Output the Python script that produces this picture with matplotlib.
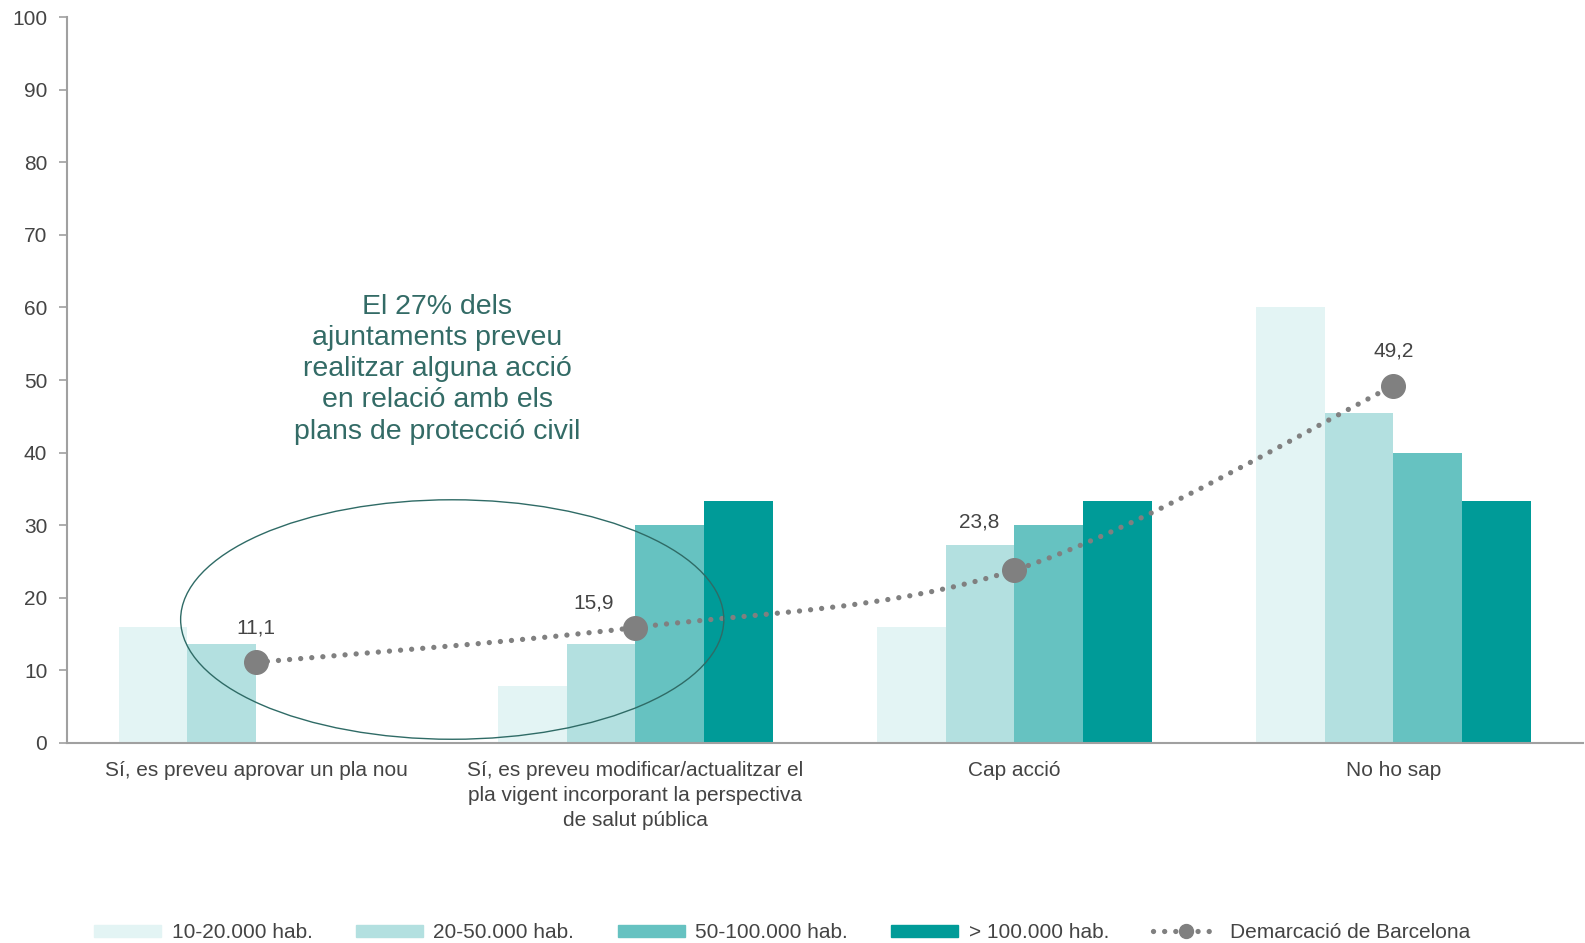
import numpy as np
import matplotlib
matplotlib.use("Agg")
import matplotlib.pyplot as plt
from matplotlib.path import Path
from matplotlib.patches import PathPatch, Ellipse, Patch
from matplotlib.lines import Line2D

plt.rcParams['font.family'] = ['Liberation Sans', 'DejaVu Sans']

# --- data ---
categories = [
    "Sí, es preveu aprovar un pla nou",
    "Sí, es preveu modificar/actualitzar el\npla vigent incorporant la perspectiva\nde salut pública",
    "Cap acció",
    "No ho sap",
]
series_names = ["10-20.000 hab.", "20-50.000 hab.", "50-100.000 hab.", "> 100.000 hab."]
v_10_20 = [16.0, 7.9, 16.0, 60.0]
v_20_50 = [13.6, 13.6, 27.3, 45.5]
v_50_100 = [0.0, 30.0, 30.0, 40.0]
v_100 = [0.0, 33.3, 33.3, 33.3]
demarcacio = [11.1, 15.9, 23.8, 49.2]
demarcacio_labels = ["11,1", "15,9", "23,8", "49,2"]
line_name = "Demarcació de Barcelona"
note = "El 27% dels\najuntaments preveu\nrealitzar alguna acció\nen relació amb els\nplans de protecció civil"

colors = ["#e3f4f4", "#b3e0e0", "#66c2c1", "#009b98"]
grey_txt = "#444444"
line_col = "#808080"

fig = plt.figure(figsize=(15.85, 9.43), dpi=100)
ax = fig.add_axes([0.0421, 0.2122, 0.9566, 0.7696])

x = np.arange(len(categories))
w = 0.1815
for i, vals in enumerate([v_10_20, v_20_50, v_50_100, v_100]):
    ax.bar(x + (i - 1.5) * w, vals, width=w, color=colors[i], zorder=2)

# smoothed line through the points (bezier, catmull-rom style)
pts = np.column_stack([x, demarcacio]).astype(float)
ext = np.vstack([pts[0], pts, pts[-1]])
verts = [tuple(pts[0])]
codes = [Path.MOVETO]
for i in range(len(pts) - 1):
    p0, p1, p2, p3 = ext[i], ext[i + 1], ext[i + 2], ext[i + 3]
    c1 = p1 + (p2 - p0) / 6
    c2 = p2 - (p3 - p1) / 6
    verts += [tuple(c1), tuple(c2), tuple(p2)]
    codes += [Path.CURVE4] * 3
curve = PathPatch(Path(verts, codes), fill=False, edgecolor=line_col,
                  linewidth=3.8, linestyle=(0, (0.01, 2.1)), zorder=3)
curve.set_capstyle('round')
ax.add_patch(curve)
ax.plot(x, demarcacio, linestyle='none', marker='o', markersize=17,
        color=line_col, zorder=4)

offsets = [(0, 25), (-30, 18), (-25, 35), (0, 25)]
for xi, yi, lab, off in zip(x, demarcacio, demarcacio_labels, offsets):
    ax.annotate(lab, (xi, yi), xytext=off, textcoords='offset points',
                ha='center', va='center', fontsize=15, color=grey_txt)

# highlight ellipse and note
ax.add_patch(Ellipse((0.517, 17.0), 1.433, 33.0, fill=False,
                     edgecolor="#2f6b66", linewidth=1.0, zorder=5))
ax.text(0.477, 51.5, note, ha='center', va='center', fontsize=20.5,
        color="#336b66", linespacing=1.26)

ax.set_xlim(-0.5, 3.5)
ax.set_ylim(0, 100)
ax.set_yticks(range(0, 101, 10))
ax.set_xticks(x)
ax.set_xticklabels(categories, fontsize=15, color=grey_txt, linespacing=1.4)
ax.tick_params(axis='x', length=0, pad=13)
ax.tick_params(axis='y', length=6, width=1.2, color="#a0a0a0",
               labelsize=15, labelcolor=grey_txt, pad=8)
for s in ['top', 'right']:
    ax.spines[s].set_visible(False)
for s in ['left', 'bottom']:
    ax.spines[s].set_color("#a0a0a0")
    ax.spines[s].set_linewidth(1.5)

handles = [Patch(color=c) for c in colors]
handles.append(Line2D([0], [0], color=line_col, linewidth=3.8,
                      linestyle=(0, (0.01, 2.1)), dash_capstyle='round',
                      marker='o', markersize=10))
fig.legend(handles, series_names + [line_name], loc='lower center',
           bbox_to_anchor=(0.4935, -0.019), ncol=5, frameon=False, fontsize=15,
           handlelength=3.2, handleheight=0.55, columnspacing=2.1,
           handletextpad=0.5, labelcolor=grey_txt)

fig.savefig("out.png", dpi=100)
